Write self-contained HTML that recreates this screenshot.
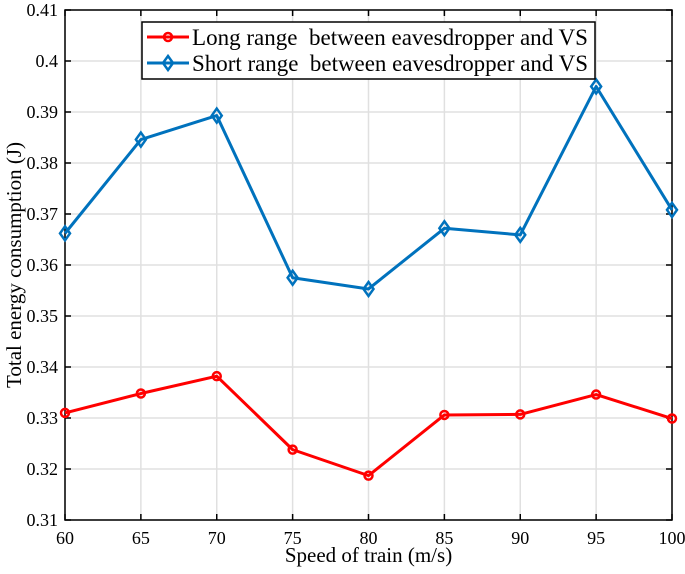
<!DOCTYPE html>
<html><head><meta charset="utf-8"><style>
html,body{margin:0;padding:0;background:#fff;}
svg{display:block;font-family:"Liberation Serif",serif;}
</style></head><body>
<svg id="chart" width="685" height="574"></svg>
<script>
const categories=[60,65,70,75,80,85,90,95,100];
const longRange=[0.3310,0.3348,0.3382,0.3238,0.3187,0.3306,0.3307,0.3346,0.3299];
const shortRange=[0.3662,0.3846,0.3893,0.3575,0.3553,0.3672,0.3659,0.3950,0.3708];
const yTicks=[0.31,0.32,0.33,0.34,0.35,0.36,0.37,0.38,0.39,0.4,0.41];
const yTickLabels=["0.31","0.32","0.33","0.34","0.35","0.36","0.37","0.38","0.39","0.4","0.41"];
const seriesNames=["Long range\u00a0 between eavesdropper and VS","Short range\u00a0 between eavesdropper and VS"];

const NS="http://www.w3.org/2000/svg";
const svg=document.getElementById('chart');
const L=65,R=672,T=10,B=520;
const x=v=>L+(v-60)/(100-60)*(R-L);
const y=v=>B-(v-0.31)/(0.41-0.31)*(B-T);
function mk(tag,attrs,parent){const e=document.createElementNS(NS,tag);for(const k in attrs)e.setAttribute(k,attrs[k]);(parent||svg).appendChild(e);return e;}

const grid=mk('g',{});


categories.forEach(c=>{mk('line',{x1:x(c),x2:x(c),y1:T,y2:B,stroke:'#e0e0e0','stroke-width':1.5},grid);});
yTicks.forEach(t=>{mk('line',{x1:L,x2:R,y1:y(t),y2:y(t),stroke:'#e0e0e0','stroke-width':1.5},grid);});

const ax=mk('g',{});


mk('rect',{x:L,y:T,width:R-L,height:B-T,fill:'none',stroke:'#000','stroke-width':1.5},ax);
categories.forEach(c=>{
  mk('line',{x1:x(c),x2:x(c),y1:B,y2:B-6,stroke:'#000','stroke-width':1.5},ax);
  mk('line',{x1:x(c),x2:x(c),y1:T,y2:T+6,stroke:'#000','stroke-width':1.5},ax);
  const t=mk('text',{x:x(c),y:B+24,'text-anchor':'middle','font-size':18},ax);t.textContent=c;
  
  
});
yTicks.forEach((v,i)=>{
  mk('line',{x1:L,x2:L+6,y1:y(v),y2:y(v),stroke:'#000','stroke-width':1.5},ax);
  mk('line',{x1:R,x2:R-6,y1:y(v),y2:y(v),stroke:'#000','stroke-width':1.5},ax);
  const t=mk('text',{x:L-7,y:y(v)+6,'text-anchor':'end','font-size':18},ax);t.textContent=yTickLabels[i];
  
  
});
const xt=mk('text',{x:(L+R)/2,y:562,'text-anchor':'middle','font-size':21});xt.textContent='Speed of train (m/s)';


const yt=mk('text',{x:0,y:0,'text-anchor':'middle','font-size':21,transform:`translate(21,${(T+B)/2}) rotate(-90)`});yt.textContent='Total energy consumption (J)';



function marker(g,cx,cy,type,color){
  if(type==='circle')mk('circle',{cx:cx,cy:cy,r:4,fill:'none',stroke:color,'stroke-width':2.5},g);
  else mk('polygon',{points:`${cx},${cy-7} ${cx+5},${cy} ${cx},${cy+7} ${cx-5},${cy}`,fill:'none',stroke:color,'stroke-width':2.5},g);
}
function series(vals,color,type,name){
  const g=mk('g',{});
  
  
  mk('polyline',{points:vals.map((v,i)=>x(categories[i])+','+y(v)).join(' '),fill:'none',stroke:color,'stroke-width':3,'stroke-linejoin':'round'},g);
  vals.forEach((v,i)=>marker(g,x(categories[i]),y(v),type,color));
}
series(longRange,'#ff0000','circle','long-range-series');
series(shortRange,'#0072bd','diamond','short-range-series');

const lg=mk('g',{});


mk('rect',{x:142,y:22,width:453,height:57,fill:'#fff',stroke:'#000','stroke-width':1.5},lg);
[['#ff0000','circle',37],['#0072bd','diamond',63]].forEach((s,i)=>{
  const e=mk('g',{},lg);
  
  
  mk('line',{x1:147,x2:189,y1:s[2],y2:s[2],stroke:s[0],'stroke-width':3},e);
  marker(e,168,s[2],s[1],s[0]);
  const t=mk('text',{x:192,y:s[2]+8,'font-size':23,textLength:396,lengthAdjust:'spacingAndGlyphs'},e);t.textContent=seriesNames[i];
});
</script>
</body></html>
